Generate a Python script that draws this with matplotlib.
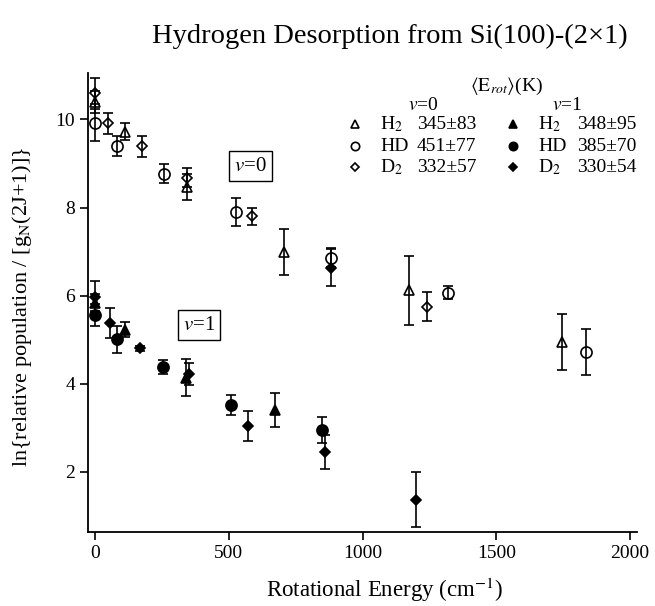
import numpy as np
import matplotlib
matplotlib.use("Agg")
import matplotlib.pyplot as plt

plt.rcParams['font.family'] = ['Liberation Serif', 'DejaVu Serif']
plt.rcParams['mathtext.fontset'] = 'stix'

# v=0 (open symbols)
h2_v0_x = [0, 112, 345, 706, 1174, 1745]
h2_v0_y = [10.40, 9.72, 8.47, 6.99, 6.12, 4.95]
h2_v0_e = [0.25, 0.19, 0.30, 0.52, 0.78, 0.63]

hd_v0_x = [0, 81, 258, 527, 881, 1321, 1835]
hd_v0_y = [9.92, 9.40, 8.77, 7.90, 6.86, 6.07, 4.72]
hd_v0_e = [0.42, 0.23, 0.22, 0.31, 0.22, 0.14, 0.53]

d2_v0_x = [0, 50, 174, 345, 586, 1240]
d2_v0_y = [10.59, 9.91, 9.39, 8.68, 7.80, 5.75]
d2_v0_e = [0.36, 0.24, 0.24, 0.22, 0.20, 0.33]

# the point near 880 that prints dark
d2_v0_dark_x = [881]
d2_v0_dark_y = [6.63]
d2_v0_dark_e = [0.42]

# v=1 (filled symbols)
h2_v1_x = [0, 112, 340, 673]
h2_v1_y = [5.84, 5.22, 4.13, 3.40]
h2_v1_e = [0.20, 0.17, 0.42, 0.38]

hd_v1_x = [0, 83, 253, 507, 847]
hd_v1_y = [5.57, 5.01, 4.38, 3.51, 2.95]
hd_v1_e = [0.25, 0.31, 0.16, 0.23, 0.30]

d2_v1_x = [0, 56, 168, 350, 573, 860, 1199]
d2_v1_y = [5.97, 5.38, 4.80, 4.22, 3.04, 2.45, 1.37]
d2_v1_e = [0.37, 0.34, 0.05, 0.25, 0.33, 0.38, 0.62]

legend_rows = [('H$_2$', '345±83', '348±95'),
               ('HD', '451±77', '385±70'),
               ('D$_2$', '332±57', '330±54')]

fig = plt.figure(figsize=(6.55, 6.06), dpi=100)
ax = fig.add_axes([0.1348, 0.1226, 0.8377, 0.7574])

def draw(x, y, e, marker, filled, ms):
    fc = 'black' if filled else 'none'
    ax.errorbar(x, y, yerr=e, fmt=marker, color='black', mfc=fc, mec='black',
                ms=ms, mew=1.2, elinewidth=1.2, capsize=3.5, capthick=1.2)

draw(h2_v0_x, h2_v0_y, h2_v0_e, '^', False, 7.5)
draw(hd_v0_x, hd_v0_y, hd_v0_e, 'o', False, 8)
draw(d2_v0_x, d2_v0_y, d2_v0_e, 'D', False, 5.5)
draw(d2_v0_dark_x, d2_v0_dark_y, d2_v0_dark_e, 'D', True, 5.5)
draw(h2_v1_x, h2_v1_y, h2_v1_e, '^', True, 7.5)
draw(hd_v1_x, hd_v1_y, hd_v1_e, 'o', True, 8)
draw(d2_v1_x, d2_v1_y, d2_v1_e, 'D', True, 5.5)

ax.set_xlim(-25, 2026)
ax.set_ylim(0.64, 11.06)
ax.set_xticks([0, 500, 1000, 1500, 2000])
ax.set_yticks([2, 4, 6, 8, 10])
ax.spines['top'].set_visible(False)
ax.spines['right'].set_visible(False)
for s in ['left', 'bottom']:
    ax.spines[s].set_linewidth(1.3)
ax.tick_params(direction='out', length=6, width=1.2, labelsize=14)

ax.set_xlabel('Rotational Energy (cm$^{-1}$)', fontsize=16.5)
ax.set_ylabel('ln{relative population / [g$_\\mathrm{N}$(2J+1)]}', fontsize=16)
ax.xaxis.set_label_coords(0.54, -0.127)
ax.xaxis.label.set_va('center')
ax.yaxis.set_label_coords(-0.121, 0.49)
ax.yaxis.label.set_va('center')

fig.text(390/655, 1 - 36/606, 'Hydrogen Desorption from Si(100)-(2×1)',
         ha='center', va='center', fontsize=20.5)

box = dict(boxstyle='square,pad=0.25', fc='white', ec='black', lw=1.0)
ax.text(582, 8.94, '$v$=0', fontsize=15, ha='center', va='center', bbox=box)
ax.text(389, 5.33, '$v$=1', fontsize=15, ha='center', va='center', bbox=box)

# legend block, in axes fractions
def fx(px):
    return (px - 88.3) / 548.7

def fy(py):
    return (531.7 - py) / 459.0

T = ax.transAxes
ax.text(fx(507), fy(86), r'$\left\langle\mathrm{E}_{rot}\right\rangle$(K)', transform=T,
        ha='center', va='center', fontsize=14)
ax.text(fx(423), fy(105), '$v$=0', transform=T, ha='center', va='center', fontsize=14)
ax.text(fx(567), fy(105), '$v$=1', transform=T, ha='center', va='center', fontsize=14)
marks = ['^', 'o', 'D']
sizes = [6, 6, 4.5]
for i, (name, a, b) in enumerate(legend_rows):
    py = [124, 146, 167][i]
    ax.plot([fx(355)], [fy(py)], marks[i], transform=T, mfc='none', mec='black',
            ms=sizes[i], mew=1.2, clip_on=False)
    ax.plot([fx(513)], [fy(py)], marks[i], transform=T, mfc='black', mec='black',
            ms=sizes[i], mew=1.2, clip_on=False)
    ax.text(fx(380), fy(py), name, transform=T, ha='left', va='center', fontsize=14)
    ax.text(fx(417), fy(py), a, transform=T, ha='left', va='center', fontsize=14)
    ax.text(fx(538), fy(py), name, transform=T, ha='left', va='center', fontsize=14)
    ax.text(fx(577), fy(py), b, transform=T, ha='left', va='center', fontsize=14)

fig.savefig('out.png', dpi=100)
